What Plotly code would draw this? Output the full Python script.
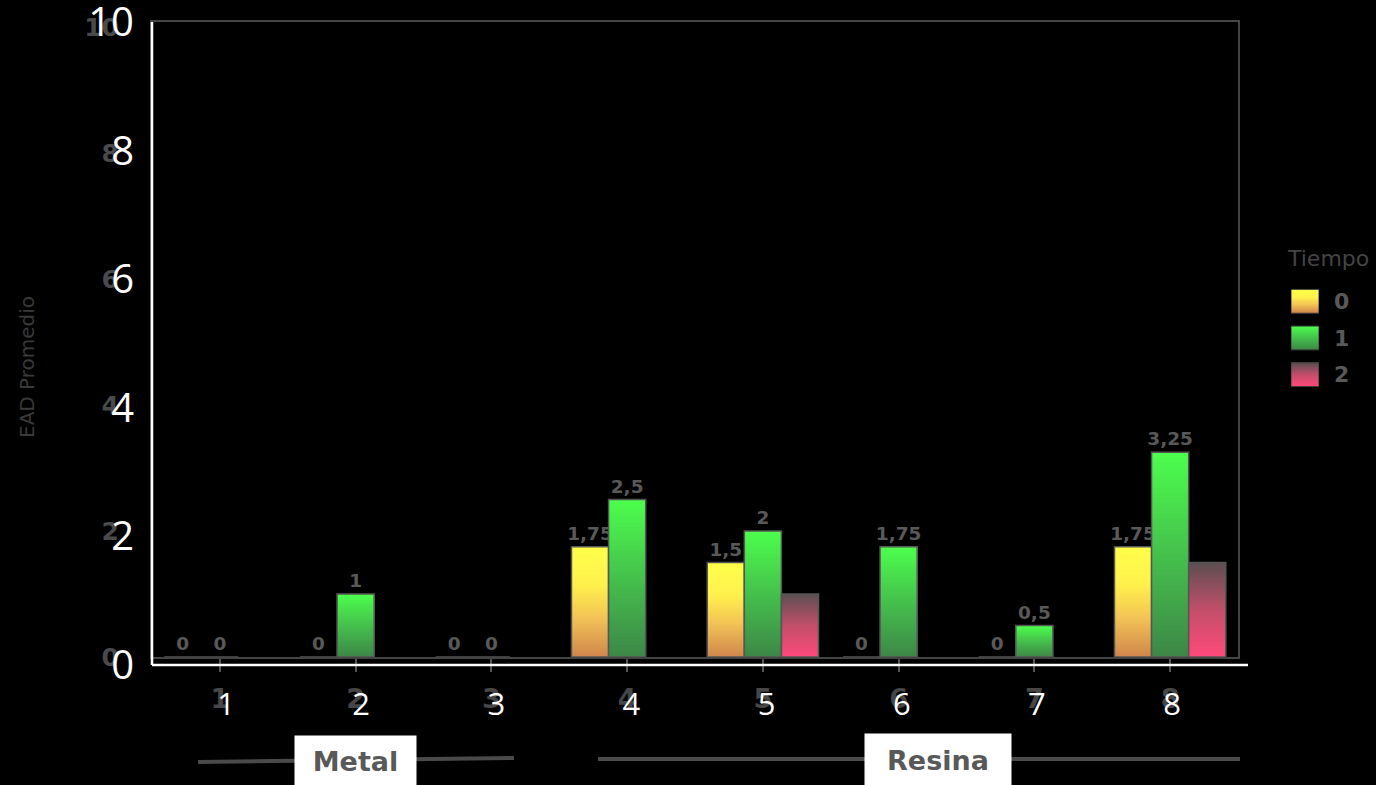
import plotly.graph_objects as go
from plotly.colors import sample_colorscale

# ---- data -------------------------------------------------------------
categorias = [1, 2, 3, 4, 5, 6, 7, 8]
tiempos = ["0", "1", "2"]
ead_t0 = [0, 0, 0, 1.75, 1.5, 0, 0, 1.75]
ead_t1 = [0, 1, 0, 2.5, 2, 1.75, 0.5, 3.25]
ead_t2 = [None, None, None, None, 1, None, None, 1.5]
series = [ead_t0, ead_t1, ead_t2]
etiquetar = [True, True, False]          # value labels drawn for tiempo 0 and 1
grupos = ["Metal", "Resina"]
grupo_centro = [2, 6.29]
y_ticks = [0, 2, 4, 6, 8, 10]

# vertical gradients (0 = bottom of the bar, 1 = top)
escalas = [
    [[0, "#cf864c"], [0.35, "#f2c256"], [0.65, "#fff04c"], [1, "#ffff4a"]],
    [[0, "#3d8747"], [0.5, "#45c04c"], [1, "#4cff4c"]],
    [[0, "#ff497b"], [0.5, "#c24f6a"], [1, "#5b4f51"]],
]

N = 40
W, H = 1376, 785
px = lambda v: v / W
py = lambda v: (H - v) / H

gris_txt = "#595959"
fuente = "DejaVu Sans"
fig = go.Figure()

# ---- gradient bars: each bar is a pile of overlapping shades ------------
for s, valores in enumerate(series):
    for k in range(N):
        col = sample_colorscale(escalas[s], [(k + 0.5) / N])[0]
        fig.add_trace(go.Bar(
            x=categorias,
            y=[None if v is None else v * (1 - k / N) for v in valores],
            base=[None if v is None else v * k / N for v in valores],
            offsetgroup=tiempos[s],
            marker=dict(color=col, line=dict(width=0)),
            showlegend=False, hoverinfo="skip",
        ))
    # outline + value label
    fig.add_trace(go.Bar(
        x=categorias, y=valores, offsetgroup=tiempos[s], name=tiempos[s],
        marker=dict(color="rgba(0,0,0,0)", line=dict(color="#555555", width=1.5)),
        text=valores if etiquetar[s] else None,
        texttemplate="%{y}" if etiquetar[s] else None,
        textposition="outside", cliponaxis=False, constraintext="none",
        textfont=dict(family=fuente, size=18.5, color=gris_txt, weight="bold"),
        showlegend=False,
    ))

# empty trace so the white axes get drawn
fig.add_trace(go.Scatter(x=[None], y=[None], xaxis="x2", yaxis="y2", showlegend=False))

# ---- legend swatches (small bar panel) ---------------------------------
h = 0.65
for k in range(N):
    fig.add_trace(go.Bar(
        x=[0] * len(tiempos), base=[i - h / 2 for i in range(len(tiempos))],
        y=[h * (1 - k / N)] * len(tiempos), width=1, offsetgroup="leg",
        marker=dict(color=[sample_colorscale(escalas[i], [(k + 0.5) / N])[0]
                           for i in range(len(tiempos))], line=dict(width=0)),
        xaxis="x3", yaxis="y3", showlegend=False, hoverinfo="skip",
    ))
fig.add_trace(go.Bar(
    x=[0] * len(tiempos), base=[i - h / 2 for i in range(len(tiempos))],
    y=[h] * len(tiempos), width=1, offsetgroup="leg",
    marker=dict(color="rgba(0,0,0,0)", line=dict(color="#3a3a3a", width=1)),
    xaxis="x3", yaxis="y3", showlegend=False, hoverinfo="skip",
))

# ---- layout ---------------------------------------------------------------
x_dom = [px(152), px(1238)]
y_dom = [py(657), py(22)]

fig.update_layout(
    width=W, height=H,
    paper_bgcolor="black", plot_bgcolor="rgba(0,0,0,0)",
    margin=dict(l=0, r=0, t=0, b=0, autoexpand=False),
    barmode="group", bargap=0.18, bargroupgap=0,
    separators=",.",
    xaxis=dict(domain=x_dom, range=[0.5, 8.5], tickvals=categorias,
               ticktext=[str(c) for c in categorias],
               tickfont=dict(family=fuente, size=27, color="#464646", weight="bold"),
               ticks="outside", ticklen=13, tickcolor="#555555", tickwidth=1.5,
               showline=True, linecolor="#444444", linewidth=2, mirror=True,
               showgrid=False, zeroline=False, anchor="y", ticklabelstandoff=4,
               automargin=False, ticklabeloverflow="allow"),
    yaxis=dict(domain=y_dom, range=[0, 10.08], tickvals=y_ticks,
               tickfont=dict(family=fuente, size=25, color="#4a4a4a", weight="bold"),
               showline=True, linecolor="#444444", linewidth=2, mirror=True,
               showgrid=False, zeroline=False, ticks="", anchor="x",
               ticklabelstandoff=26, automargin=False, ticklabeloverflow="allow"),
    xaxis2=dict(domain=x_dom, anchor="free", position=py(665),
                range=[0.4524, 8.488], tickvals=categorias,
                ticktext=[str(c) for c in categorias],
                tickfont=dict(family="Open Sans", size=31, color="white"),
                showline=False, showgrid=False, zeroline=False, ticks="",
                ticklabelstandoff=18, automargin=False, ticklabeloverflow="allow"),
    yaxis2=dict(domain=[py(665), py(22)], anchor="free", position=px(152),
                range=[0, 10.001], tickvals=y_ticks,
                tickfont=dict(family="Open Sans", size=40, color="white"),
                showline=False, showgrid=False, zeroline=False, ticks="",
                ticklabelstandoff=18, automargin=False, ticklabeloverflow="allow"),
    xaxis3=dict(domain=[px(1291), px(1319)], range=[-0.5, 0.5], visible=False,
                anchor="y3", fixedrange=True, automargin=False),
    yaxis3=dict(domain=[py(393), py(283)], range=[2.5, -0.5], anchor="x3",
                side="right", tickvals=[0, 1, 2], ticktext=tiempos,
                tickfont=dict(family=fuente, size=22, color=gris_txt, weight="bold"),
                showline=False, showgrid=False, zeroline=False, ticks="",
                ticklabelstandoff=14, automargin=False, ticklabeloverflow="allow"),
)

# white L-shaped axis lines
fig.add_shape(type="line", xref="paper", yref="paper",
              x0=px(152), x1=px(1248), y0=py(665), y1=py(665),
              line=dict(color="white", width=2.5))
fig.add_shape(type="line", xref="paper", yref="paper",
              x0=px(152), x1=px(152), y0=py(665), y1=py(22),
              line=dict(color="white", width=2.5))

# group bars under the category axis
fig.add_shape(type="line", xref="paper", yref="paper",
              x0=px(198), x1=px(514), y0=py(762), y1=py(758),
              line=dict(color="#4a4a4a", width=4))
fig.add_shape(type="line", xref="paper", yref="paper",
              x0=px(598), x1=px(1240), y0=py(759), y1=py(759),
              line=dict(color="#4a4a4a", width=4))
for g, c, w, hh, yc in zip(grupos, grupo_centro, [119, 144], [48, 51], [761, 760]):
    fig.add_annotation(text=g, x=c, xref="x", y=py(yc), yref="paper",
                       xanchor="center", yanchor="middle",
                       showarrow=False, width=w, height=hh,
                       bgcolor="white", align="center", valign="middle",
                       font=dict(family=fuente, size=27, color=gris_txt, weight="bold"))

# axis title and legend title
fig.add_annotation(text="EAD Promedio", x=px(27), y=py(367), xref="paper", yref="paper",
                   xanchor="center", yanchor="middle",
                   textangle=-90, showarrow=False,
                   font=dict(family=fuente, size=20, color="#3a3a3a"))
fig.add_annotation(text="Tiempo", x=px(1328), y=py(258), xref="paper", yref="paper",
                   xanchor="center", yanchor="middle", showarrow=False,
                   font=dict(family=fuente, size=22, color="#444444"))

fig.write_html("out.html")
